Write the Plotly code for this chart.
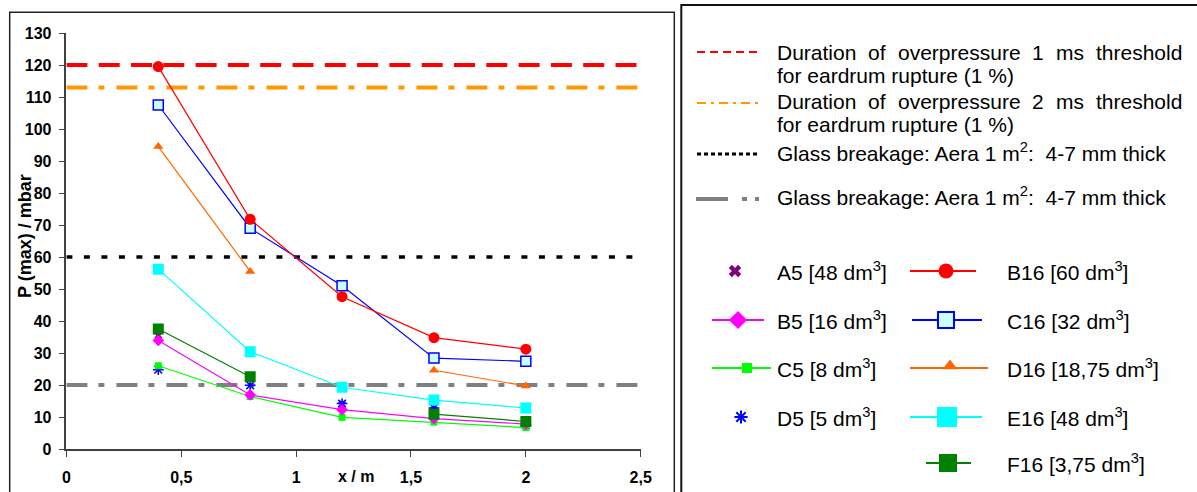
import plotly.graph_objects as go

# Peak overpressure versus distance, with damage thresholds
x_m = [0.4, 0.8, 1.2, 1.6, 2.0]

a5 = [35.5, 23.0, 14.0, 12.2, 8.5]
b5 = [33.9, 16.9, 12.3, 9.5, 7.8]
c5 = [26.0, 16.4, 9.9, 8.4, 6.7]
d5 = [24.8, 19.9, 14.2, 12.8, 7.5]
b16 = [119.5, 71.8, 47.6, 34.8, 31.2]
c16 = [107.5, 69.0, 51.0, 28.4, 27.4]
d16 = [94.5, 55.5, None, 24.6, 19.7]
e16 = [56.2, 30.4, 19.3, 15.3, 12.8]
f16 = [37.5, 22.6, None, 10.9, 8.6]

thr_eardrum_1ms = 120
thr_eardrum_2ms = 113
thr_glass_a = 60
thr_glass_b = 20

x_ticks = [0, 0.5, 1, 1.5, 2, 2.5]
x_tick_text = ["0", "0,5", "1", "1,5", "2", "2,5"]
y_ticks = list(range(0, 131, 10))

W, H = 1197, 492
FONT = "Liberation Sans, Arial, sans-serif"


def px(x):
    return x / W


def py(y):
    return 1 - y / H


fig = go.Figure()

# threshold lines across the full x range
thresholds = [
    (thr_eardrum_1ms, "#FF0000", 4, "21px,11.3px"),
    (thr_eardrum_2ms, "#FF9900", 4, "21px,11px,6px,12px"),
    (thr_glass_a, "#000000", 3.5, "6px,11.5px"),
    (thr_glass_b, "#808080", 4, "21px,11px,6px,12px"),
]
for val, col, w, dash in thresholds:
    fig.add_trace(go.Scatter(x=[0, 2.5], y=[val, val], mode="lines",
                             line=dict(color=col, width=w, dash=dash),
                             showlegend=False, hoverinfo="skip"))

series = [
    ("A5", a5, "#800080", "markers", dict(symbol="x", size=7, color="#800080")),
    ("D5", d5, "#0000FF", "markers", dict(symbol="asterisk-open", size=9, color="#0000FF",
                                          line=dict(color="#0000FF", width=1.5))),
    ("C5", c5, "#00FF00", "lines+markers", dict(symbol="square", size=7, color="#00FF00")),
    ("B5", b5, "#FF00FF", "lines+markers", dict(symbol="diamond", size=9, color="#FF00FF")),
    ("F16", f16, "#008000", "lines+markers", dict(symbol="square", size=11, color="#008000")),
    ("E16", e16, "#00FFFF", "lines+markers", dict(symbol="square", size=11, color="#00FFFF")),
    ("D16", d16, "#FF6600", "lines+markers", dict(symbol="triangle-up", size=9, color="#FF6600")),
    ("C16", c16, "#0000FF", "lines+markers", dict(symbol="square", size=10, color="#CCFFFF",
                                                  line=dict(color="#0000FF", width=1.5))),
    ("B16", b16, "#FF0000", "lines+markers", dict(symbol="circle", size=11, color="#FF0000")),
]
for name, ys, col, mode, mk in series:
    fig.add_trace(go.Scatter(x=x_m, y=ys, mode=mode, name=name,
                             line=dict(color=col, width=1.2), marker=mk,
                             showlegend=False))

# ---- hand-built legend on a pixel-space overlay axis ----
LX = "x2"
LY = "y2"


def leg_line(x0, x1, y, col, w, dash="solid"):
    fig.add_trace(go.Scatter(x=[x0, x1], y=[y, y], mode="lines", xaxis=LX, yaxis=LY,
                             line=dict(color=col, width=w, dash=dash),
                             showlegend=False, hoverinfo="skip"))


def leg_marker(x, y, mk):
    fig.add_trace(go.Scatter(x=[x], y=[y], mode="markers", xaxis=LX, yaxis=LY,
                             marker=mk, showlegend=False, hoverinfo="skip"))


leg_line(697, 760, 52, "#FF0000", 2, "8px,5px")
leg_line(697, 760, 103, "#FF9900", 2, "9px,5px,3px,5px")
leg_line(697, 760, 154, "#000000", 3, "4px,3px")
leg_line(696, 760, 199, "#808080", 4, "32px,14px,5px,8px,4px,100px")

leg_marker(735, 271, dict(symbol="x", size=11, color="#800080"))
leg_line(910, 976, 271, "#FF0000", 2)
leg_marker(946, 271, dict(symbol="circle", size=15, color="#FF0000"))
leg_line(712, 764, 320, "#FF00FF", 2)
leg_marker(738, 320, dict(symbol="diamond", size=14, color="#FF00FF"))
leg_line(912, 982, 320, "#0000FF", 2)
leg_marker(946, 320, dict(symbol="square", size=16, color="#CCFFFF",
                          line=dict(color="#0000FF", width=2)))
leg_line(712, 771, 368, "#00FF00", 2)
leg_marker(747, 368, dict(symbol="square", size=10, color="#00FF00"))
leg_line(910, 988, 368, "#FF6600", 2)
leg_marker(950, 366, dict(symbol="triangle-up", size=13, color="#FF6600"))
leg_marker(741, 417, dict(symbol="asterisk-open", size=11, color="#0000FF",
                          line=dict(color="#0000FF", width=2)))
leg_line(910, 982, 417, "#00FFFF", 2)
leg_marker(947, 417, dict(symbol="square", size=20, color="#00FFFF"))
leg_line(926, 971, 463, "#008000", 2)
leg_marker(948, 463, dict(symbol="square", size=18, color="#008000"))

annotations = []

# Arial advance widths (per 1000 em) for justified lines
AW = {" ": 278, "(": 333, ")": 333, "%": 889, "-": 333, ":": 278, "[": 278, "]": 278,
      "A": 667, "D": 722, "G": 778,
      "a": 556, "b": 556, "c": 500, "d": 556, "e": 556, "f": 278, "g": 556, "h": 556,
      "i": 222, "k": 500, "l": 222, "m": 833, "n": 556, "o": 556, "p": 556, "r": 333,
      "s": 500, "t": 278, "u": 556, "v": 500}
LEG_SIZE = 21


def tw(s, size):
    return sum(AW.get(c, 556) for c in s) / 1000 * size


def leg_text(x, y, text, anchor="left"):
    annotations.append(dict(x=x, y=y, xref=LX, yref=LY, text=text, showarrow=False,
                            xanchor=anchor, yanchor="middle", borderpad=0,
                            font=dict(family=FONT, size=LEG_SIZE, color="#000000")))


def justified(text, x0, x1, y):
    words = text.split()
    total = sum(tw(w, LEG_SIZE) for w in words)
    gap = (x1 - x0 - total) / (len(words) - 1)
    x = x0
    for w in words:
        leg_text(x, y, w)
        x += tw(w, LEG_SIZE) + gap


TX = 776
justified("Duration of overpressure 1 ms threshold", TX, 1181, 52)
leg_text(TX, 75, "for eardrum rupture (1 %)")
justified("Duration of overpressure 2 ms threshold", TX, 1181, 101)
leg_text(TX, 124, "for eardrum rupture (1 %)")
leg_text(TX, 152, "Glass breakage: Aera 1 m<sup>2</sup>:  4-7 mm thick")
leg_text(TX, 196, "Glass breakage: Aera 1 m<sup>2</sup>:  4-7 mm thick")

left_items = [("A5 [48 dm<sup>3</sup>]", 271), ("B5 [16 dm<sup>3</sup>]", 320),
              ("C5 [8 dm<sup>3</sup>]", 368), ("D5 [5 dm<sup>3</sup>]", 417)]
right_items = [("B16 [60 dm<sup>3</sup>]", 271), ("C16 [32 dm<sup>3</sup>]", 320),
               ("D16 [18,75 dm<sup>3</sup>]", 368), ("E16 [48 dm<sup>3</sup>]", 417),
               ("F16 [3,75 dm<sup>3</sup>]", 463)]
for t, y in left_items:
    leg_text(TX, y, t)
for t, y in right_items:
    leg_text(1006, y, t)

# axis titles
annotations.append(dict(x=px(25), y=py(236), xref="paper", yref="paper",
                        xanchor="center", yanchor="middle",
                        text="P (max) / mbar", textangle=-90, showarrow=False,
                        font=dict(family=FONT, size=18, color="#000000", weight="bold")))
annotations.append(dict(x=px(356), y=py(476), xref="paper", yref="paper",
                        xanchor="center", yanchor="middle",
                        text="x / m", showarrow=False,
                        font=dict(family=FONT, size=16, color="#000000", weight="bold")))

shapes = [
    dict(type="rect", xref="paper", yref="paper", x0=px(9.7), x1=px(674.3),
         y0=py(520), y1=py(12.3), line=dict(color="#222222", width=1.5)),
    dict(type="rect", xref="paper", yref="paper", x0=px(681.3), x1=px(1230),
         y0=py(520), y1=py(5), line=dict(color="#111111", width=2)),
]

axis_font = dict(family=FONT, size=16, color="#000000", weight="bold")
fig.update_layout(
    width=W, height=H,
    margin=dict(l=0, r=0, t=0, b=0, pad=0, autoexpand=False),
    paper_bgcolor="white", plot_bgcolor="rgba(0,0,0,0)",
    showlegend=False,
    xaxis=dict(domain=[px(66.4), px(640.7)], range=[0, 2.5],
               tickvals=x_ticks, ticktext=x_tick_text,
               showgrid=False, zeroline=False, showline=True, automargin=False,
               linecolor="#404040", linewidth=1.5,
               ticks="outside", ticklen=6, tickwidth=1.2, tickcolor="#404040",
               tickfont=axis_font, ticklabelstandoff=7, anchor="y"),
    yaxis=dict(domain=[py(449), py(33)], range=[0, 130],
               tickvals=y_ticks,
               showgrid=False, zeroline=False, showline=True, automargin=False,
               linecolor="#404040", linewidth=1.5,
               ticks="outside", ticklen=6, tickwidth=1.2, tickcolor="#404040",
               tickfont=axis_font, ticklabelstandoff=4, anchor="x"),
    xaxis2=dict(domain=[0, 1], range=[0, W], visible=False, anchor="y2",
                automargin=False, fixedrange=True),
    yaxis2=dict(domain=[0, 1], range=[H, 0], visible=False, anchor="x2",
                automargin=False, fixedrange=True),
    annotations=annotations,
    shapes=shapes,
)

fig.write_html("out.html")
